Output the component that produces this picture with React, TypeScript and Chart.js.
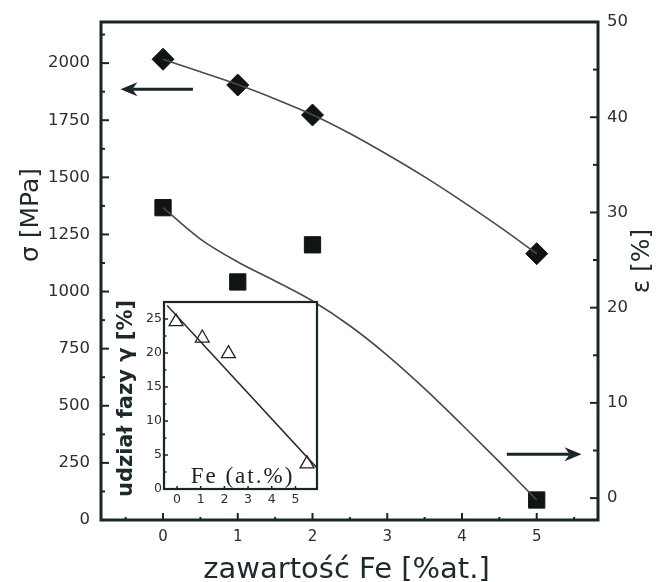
import React, { useEffect, useRef } from "react";
import { Chart, registerables } from "chart.js";

Chart.register(...registerables);

// ---------- data ----------
const FE_CONTENT = [0, 1, 2, 5];
const SIGMA_MPA = [2017, 1904, 1773, 1166];
const EPSILON_PCT = [30.5, 22.7, 26.6, -0.2];

const SIGMA_FIT_X = [0, 0.5, 1, 1.5, 2, 2.5, 3, 3.5, 4, 4.5, 5];
const SIGMA_FIT_Y = [2017, 1962, 1906, 1843, 1774, 1692, 1600, 1502, 1396, 1284, 1166];

const EPS_FIT_X = [0, 0.5, 1, 1.5, 2, 2.5, 3, 3.5, 4, 4.5, 5];
const EPS_FIT_Y = [30.5, 27.2, 24.8, 22.8, 20.7, 18.1, 15.0, 11.5, 7.7, 3.8, -0.2];

const X_TICKS = [0, 1, 2, 3, 4, 5];
const X_MINOR = [-0.5, 0.5, 1.5, 2.5, 3.5, 4.5, 5.5];
const SIGMA_TICKS = [0, 250, 500, 750, 1000, 1250, 1500, 1750, 2000];
const SIGMA_MINOR = [125, 375, 625, 875, 1125, 1375, 1625, 1875, 2125];
const EPS_TICKS = [0, 10, 20, 30, 40, 50];
const EPS_MINOR = [5, 15, 25, 35, 45];

const SIGMA_ARROW = { from: 0.4, to: -0.57, level: 1886 };
const EPS_ARROW = { from: 4.6, to: 5.6, level: 4.6 };

// inset
const GAMMA_FE = [0, 1, 2, 5];
const GAMMA_PHASE = [24.6, 22.2, 19.9, 3.7];
const GAMMA_FIT_X = [-0.34, 5.38];
const GAMMA_FIT_Y = [27.0, 3.1];
const INSET_X_TICKS = [0, 1, 2, 3, 4, 5];
const INSET_Y_TICKS = [0, 5, 10, 15, 20, 25];
const INSET_Y_MINOR = [2.5, 7.5, 12.5, 17.5, 22.5];

const X_TITLE = "zawartość Fe [%at.]";
const Y_TITLE = "σ [MPa]";
const YR_TITLE = "ε [%]";
const INSET_X_TITLE = "Fe (at.%)";
const INSET_Y_TITLE = "udział fazy γ [%]";

// ---------- styles ----------
const FRAME = "#16262a";
const TICK_TEXT = "#2e2e2e";
const TITLE_TEXT = "#1d2a2c";
const MARK = "#101415";
const CURVE = "#4a4a4a";
const FONT = "'DejaVu Sans', Verdana, sans-serif";

Chart.defaults.font.family = FONT;

const pts = (xs: number[], ys: number[]) => xs.map((x, i) => ({ x, y: ys[i] }));

function line(ctx: CanvasRenderingContext2D, x1: number, y1: number, x2: number, y2: number) {
  ctx.beginPath();
  ctx.moveTo(x1, y1);
  ctx.lineTo(x2, y2);
  ctx.stroke();
}

function arrow(ctx: CanvasRenderingContext2D, x0: number, x1: number, y: number) {
  const dir = x1 > x0 ? 1 : -1;
  const headL = 17;
  const headW = 7;
  ctx.lineWidth = 3;
  line(ctx, x0, y, x1 - dir * headL * 0.7, y);
  ctx.beginPath();
  ctx.moveTo(x1, y);
  ctx.lineTo(x1 - dir * headL, y - headW);
  ctx.lineTo(x1 - dir * headL * 0.7, y);
  ctx.lineTo(x1 - dir * headL, y + headW);
  ctx.closePath();
  ctx.fill();
}

const mainDecor = {
  id: "mainDecor",
  afterDraw(chart: any) {
    const { ctx, chartArea: ca, scales } = chart;
    const sx = scales.x;
    const sy = scales.y;
    const sr = scales.yR;
    ctx.save();
    ctx.strokeStyle = FRAME;
    ctx.fillStyle = FRAME;
    ctx.lineWidth = 2;
    SIGMA_TICKS.forEach((v) => { const p = sy.getPixelForValue(v); line(ctx, ca.left, p, ca.left + 8, p); });
    SIGMA_MINOR.forEach((v) => { const p = sy.getPixelForValue(v); line(ctx, ca.left, p, ca.left + 4, p); });
    EPS_TICKS.forEach((v) => { const p = sr.getPixelForValue(v); line(ctx, ca.right, p, ca.right - 8, p); });
    EPS_MINOR.forEach((v) => { const p = sr.getPixelForValue(v); line(ctx, ca.right, p, ca.right - 5, p); });
    X_TICKS.forEach((v) => { const p = sx.getPixelForValue(v); line(ctx, p, ca.bottom, p, ca.bottom - 7); });
    X_MINOR.forEach((v) => { const p = sx.getPixelForValue(v); line(ctx, p, ca.bottom, p, ca.bottom - 3); });

    ctx.lineWidth = 3;
    ctx.strokeRect(ca.left, ca.top, ca.right - ca.left, ca.bottom - ca.top);

    arrow(ctx, sx.getPixelForValue(SIGMA_ARROW.from), sx.getPixelForValue(SIGMA_ARROW.to), sy.getPixelForValue(SIGMA_ARROW.level));
    arrow(ctx, sx.getPixelForValue(EPS_ARROW.from), sx.getPixelForValue(EPS_ARROW.to), sr.getPixelForValue(EPS_ARROW.level));

    ctx.fillStyle = TITLE_TEXT;
    ctx.font = `29px ${FONT}`;
    ctx.textAlign = "center";
    ctx.textBaseline = "alphabetic";
    ctx.fillText(X_TITLE, (ca.left + ca.right) / 2 - 3, ca.bottom + 58);

    ctx.font = `25px ${FONT}`;
    ctx.textBaseline = "middle";
    ctx.save();
    ctx.translate(ca.left - 70, 215);
    ctx.rotate(-Math.PI / 2);
    ctx.fillText(Y_TITLE, 0, 0);
    ctx.restore();

    ctx.save();
    ctx.translate(ca.right + 44, 261);
    ctx.rotate(-Math.PI / 2);
    ctx.fillText(YR_TITLE, 0, 0);
    ctx.restore();
    ctx.restore();
  },
};

const insetDecor = {
  id: "insetDecor",
  beforeDraw(chart: any) {
    const { ctx, chartArea: ca } = chart;
    ctx.save();
    ctx.fillStyle = "#ffffff";
    ctx.fillRect(ca.left, ca.top, ca.right - ca.left, ca.bottom - ca.top);
    ctx.restore();
  },
  afterDraw(chart: any) {
    const { ctx, chartArea: ca, scales } = chart;
    const sy = scales.y;
    const sl = scales.xl;
    ctx.save();
    ctx.strokeStyle = FRAME;
    ctx.lineWidth = 1.5;
    INSET_Y_TICKS.forEach((v) => { const p = sy.getPixelForValue(v); line(ctx, ca.left, p, ca.left + 4, p); });
    INSET_Y_MINOR.forEach((v) => { const p = sy.getPixelForValue(v); line(ctx, ca.left, p, ca.left + 2.5, p); });
    INSET_X_TICKS.forEach((v) => { const p = sl.getPixelForValue(v); line(ctx, p, ca.bottom, p, ca.bottom - 3); });
    ctx.lineWidth = 2.2;
    ctx.strokeRect(ca.left, ca.top, ca.right - ca.left, ca.bottom - ca.top);

    ctx.fillStyle = "#222222";
    ctx.font = "23px 'Liberation Serif', serif";
    (ctx as any).letterSpacing = "2px";
    ctx.textAlign = "center";
    ctx.textBaseline = "alphabetic";
    ctx.fillText(INSET_X_TITLE, (ca.left + ca.right) / 2 + 2, ca.bottom - 6);
    (ctx as any).letterSpacing = "0px";

    ctx.fillStyle = TITLE_TEXT;
    ctx.font = `bold 21px ${FONT}`;
    ctx.textBaseline = "middle";
    ctx.translate(ca.left - 37, (ca.top + ca.bottom) / 2 + 3);
    ctx.rotate(-Math.PI / 2);
    ctx.fillText(INSET_Y_TITLE, 0, 0);
    ctx.restore();
  },
};

export default function App() {
  const mainRef = useRef<HTMLCanvasElement>(null);
  const insetRef = useRef<HTMLCanvasElement>(null);

  useEffect(() => {
    const main = new Chart(mainRef.current!, {
      type: "scatter",
      data: {
        datasets: [
          {
            data: pts(SIGMA_FIT_X, SIGMA_FIT_Y),
            yAxisID: "y",
            showLine: true,
            pointRadius: 0,
            borderColor: CURVE,
            borderWidth: 1.6,
            cubicInterpolationMode: "monotone",
          },
          {
            data: pts(EPS_FIT_X, EPS_FIT_Y),
            yAxisID: "yR",
            showLine: true,
            pointRadius: 0,
            borderColor: CURVE,
            borderWidth: 1.6,
            cubicInterpolationMode: "monotone",
          },
          {
            data: pts(FE_CONTENT, SIGMA_MPA),
            yAxisID: "y",
            pointStyle: "rectRot",
            pointRadius: 11,
            backgroundColor: MARK,
            borderColor: MARK,
            borderWidth: 1,
          },
          {
            data: pts(FE_CONTENT, EPSILON_PCT),
            yAxisID: "yR",
            pointStyle: "rect",
            pointRadius: 11.5,
            backgroundColor: MARK,
            borderColor: MARK,
            borderWidth: 1,
          },
        ],
      } as any,
      options: {
        responsive: false,
        animation: false,
        events: [],
        layout: { padding: { top: 22, left: 0, right: 0, bottom: 0 } },
        plugins: { legend: { display: false }, tooltip: { enabled: false } },
        scales: {
          x: {
            type: "linear",
            position: "bottom",
            min: -0.83,
            max: 5.82,
            afterFit: (s: any) => { s.height = 62; },
            afterBuildTicks: (s: any) => { s.ticks = X_TICKS.map((v) => ({ value: v })); },
            grid: { display: false, drawTicks: false },
            border: { display: false },
            ticks: { font: { size: 15 }, color: TICK_TEXT, padding: 8, maxRotation: 0, autoSkip: false, callback: (v: any) => String(v) },
          },
          y: {
            type: "linear",
            position: "left",
            min: 0,
            max: 2180,
            afterFit: (s: any) => { s.width = 101; },
            afterBuildTicks: (s: any) => { s.ticks = SIGMA_TICKS.map((v) => ({ value: v })); },
            grid: { display: false, drawTicks: false },
            border: { display: false },
            ticks: { font: { size: 16.5 }, color: TICK_TEXT, padding: 11, autoSkip: false, callback: (v: any) => String(v) },
          },
          yR: {
            type: "linear",
            position: "right",
            min: -2.3,
            max: 50,
            afterFit: (s: any) => { s.width = 59; },
            afterBuildTicks: (s: any) => { s.ticks = EPS_TICKS.map((v) => ({ value: v })); },
            grid: { display: false, drawTicks: false },
            border: { display: false },
            ticks: { font: { size: 16.5 }, color: TICK_TEXT, padding: 9, autoSkip: false, callback: (v: any) => String(v) },
          },
        },
      } as any,
      plugins: [mainDecor],
    });

    const inset = new Chart(insetRef.current!, {
      type: "scatter",
      data: {
        datasets: [
          {
            data: pts(GAMMA_FIT_X, GAMMA_FIT_Y),
            showLine: true,
            pointRadius: 0,
            borderColor: "#2a2a2a",
            borderWidth: 1.5,
          },
          {
            data: pts(GAMMA_FE, GAMMA_PHASE),
            pointStyle: "triangle",
            pointRadius: 8,
            backgroundColor: "rgba(255,255,255,0)",
            borderColor: "#222222",
            borderWidth: 1.3,
          },
        ],
      } as any,
      options: {
        responsive: false,
        animation: false,
        events: [],
        layout: { padding: { top: 10, right: 10, left: 0, bottom: 0 } },
        plugins: { legend: { display: false }, tooltip: { enabled: false } },
        scales: {
          x: { type: "linear", display: false, min: -0.46, max: 5.38 },
          xl: {
            type: "linear",
            position: "bottom",
            min: -0.55,
            max: 5.91,
            afterFit: (s: any) => { s.height = 25; },
            afterBuildTicks: (s: any) => { s.ticks = INSET_X_TICKS.map((v) => ({ value: v })); },
            grid: { display: false, drawTicks: false },
            border: { display: false },
            ticks: { font: { size: 12.5 }, color: TICK_TEXT, padding: 3, maxRotation: 0, autoSkip: false, callback: (v: any) => String(v) },
          },
          y: {
            type: "linear",
            position: "left",
            min: 0,
            max: 27.5,
            afterFit: (s: any) => { s.width = 59; },
            afterBuildTicks: (s: any) => { s.ticks = INSET_Y_TICKS.map((v) => ({ value: v })); },
            grid: { display: false, drawTicks: false },
            border: { display: false },
            ticks: { font: { size: 12.5 }, color: TICK_TEXT, padding: 2, autoSkip: false, callback: (v: any) => String(v) },
          },
        },
      } as any,
      plugins: [insetDecor],
    });

    return () => {
      main.destroy();
      inset.destroy();
    };
  }, []);

  return (
    <div style={{ position: "absolute", left: 0, top: 0, width: 657, height: 582, background: "#ffffff" }}>
      <canvas ref={mainRef} width={657} height={582} style={{ position: "absolute", left: 0, top: 0 }} />
      <canvas ref={insetRef} width={222} height={222} style={{ position: "absolute", left: 105, top: 292 }} />
    </div>
  );
}
